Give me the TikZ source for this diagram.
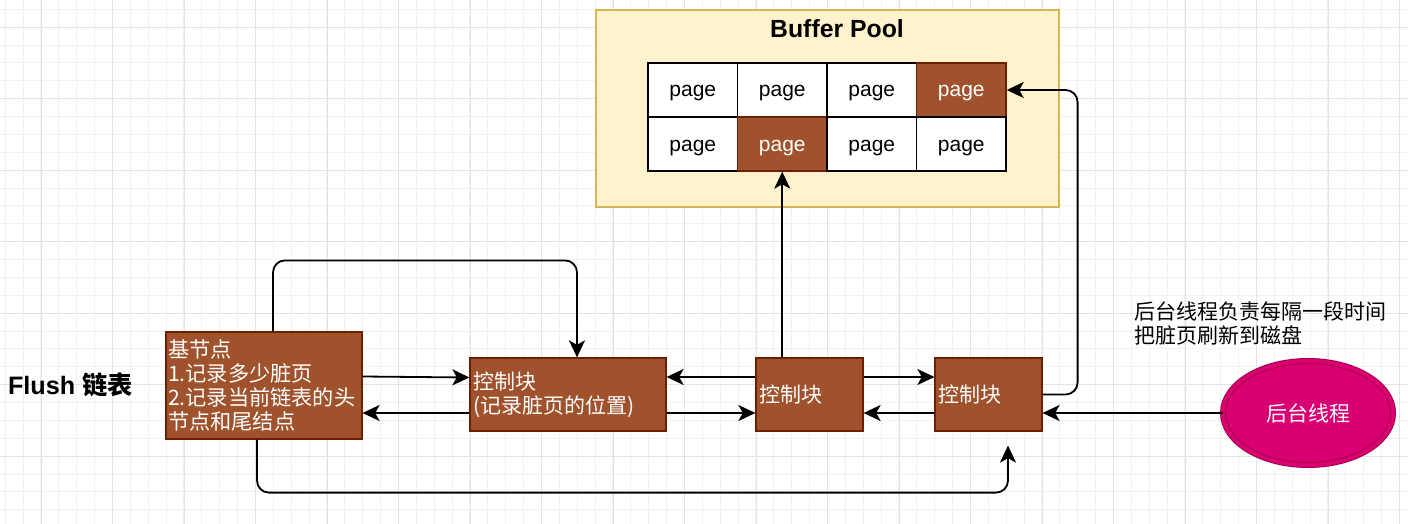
\documentclass[tikz,border=0pt]{standalone}
\usepackage{fontspec}
\setmainfont{Liberation Sans}
\newfontfamily\cjk{Noto Sans CJK SC}
\usetikzlibrary{arrows.meta,positioning,shapes.geometric}
\definecolor{dirtyfill}{HTML}{A0522D}
\definecolor{dirtyline}{HTML}{6D1F00}
\definecolor{poolfill}{HTML}{FFF2CC}
\definecolor{poolline}{HTML}{D6B656}
\definecolor{threadfill}{HTML}{D80073}
\definecolor{threadline}{HTML}{A50040}
\tikzset{
  minorgrid/.style={
    draw=black!5,
    line width=0.5pt
  },
  majorgrid/.style={
    draw=black!11,
    line width=0.5pt
  },
  pool/.style={
    draw=poolline,
    fill=poolfill,
    rectangle,
    line width=0.6pt,
    minimum width=231.5pt,
    minimum height=98.5pt,
    inner sep=0pt
  },
  page/.style={
    draw=black,
    fill=white,
    rectangle,
    line width=0.7pt,
    minimum width=44.75pt,
    minimum height=27pt,
    inner sep=0pt,
    text height=7pt,
    text depth=0pt,
    font=\fontsize{10.5pt}{12pt}\selectfont
  },
  dirtypage/.style={
    page,
    draw=dirtyline,
    fill=dirtyfill,
    text=white
  },
  block/.style={
    draw=dirtyline,
    fill=dirtyfill,
    text=white,
    rectangle,
    line width=0.6pt,
    inner xsep=1.5pt,
    inner ysep=0pt,
    align=left,
    minimum height=36.5pt,
    font=\cjk\fontsize{10.5pt}{12.2pt}\selectfont
  },
  thread/.style={
    ellipse,
    draw=threadline,
    double=threadfill,
    double distance=2pt,
    line width=0.5pt,
    fill=threadfill,
    text=white,
    minimum width=85pt,
    minimum height=52pt,
    inner sep=0pt,
    font=\cjk\fontsize{10.5pt}{12pt}\selectfont
  },
  line/.style={
    -{Stealth[length=8.5pt,width=8pt,inset=2.2pt]},
    line width=0.9pt
  }
}

\begin{document}
\begin{tikzpicture}[x=0.5pt,y=-0.5pt]

\useasboundingbox (0,0) rectangle (1408,524);
\fill[white] (0,0) rectangle (1408,524);

% background grid
\foreach \k in {0,...,78}
  \draw[minorgrid] ({5.2+17.875*\k},0) -- ({5.2+17.875*\k},524);
\foreach \k in {0,...,29}
  \draw[minorgrid] (0,{9.3+17.875*\k}) -- (1408,{9.3+17.875*\k});
\foreach \k in {0,...,19}
  \draw[majorgrid] ({41+71.5*\k},0) -- ({41+71.5*\k},524);
\foreach \k in {0,...,7}
  \draw[majorgrid] (0,{27.3+71.5*\k}) -- (1408,{27.3+71.5*\k});

% buffer pool
\node[pool] (pool) at (827.5,108.5) {};
\node[font=\bfseries\fontsize{12.4pt}{14pt}\selectfont] (title) at (837,29) {Buffer Pool};
\foreach \r/\c/\s in {1/1/page,1/2/page,1/3/page,1/4/dirtypage,
                      2/1/page,2/2/dirtypage,2/3/page,2/4/page}
  \node[\s] (p\r\c) at ({648+89.5*(\c-0.5)},{63+54*(\r-0.5)}) {page};

% flush list
\node[anchor=west,font=\bfseries\fontsize{12.6pt}{14pt}\selectfont] (flush) at (1,385)
  {Flush {\cjk 链表}};
\node[block, minimum width=98pt, minimum height=53.5pt, inner xsep=1pt, text width=96pt,
      font=\cjk\fontsize{10.6pt}{12.1pt}\selectfont] (base) at (264,385.5)
  {基节点\\1.记录多少脏页\\2.记录当前链表的头\\节点和尾结点};
\node[block, minimum width=98pt, text width=95pt] (ctrlA) at (568,394.5)
  {控制块\\(记录脏页的位置)};
\node[block, minimum width=53.5pt, text width=50.5pt] (ctrlB) at (809.5,394.5) {控制块};
\node[block, minimum width=53.5pt, text width=50.5pt] (ctrlC) at (988.5,394.5) {控制块};

% background thread
\node[thread] (worker) at (1308,413) {后台线程};
\node[anchor=west, align=left, font=\cjk\fontsize{10.5pt}{12pt}\selectfont] (note) at (1127,324)
  {后台线程负责每隔一段时间\\把脏页刷新到磁盘};

% links
\draw[line] ([yshift=4.5pt]base.east) -- ([yshift=8.5pt]ctrlA.west);
\draw[line] ([yshift=-9.25pt]ctrlA.west) -- ([yshift=-9.25pt]ctrlA.west -| base.east);
\draw[line] ([yshift=8.75pt]ctrlB.west) -- ([yshift=8.75pt]ctrlB.west -| ctrlA.east);
\draw[line] ([yshift=-9.25pt]ctrlA.east) -- ([yshift=-9.25pt]ctrlA.east -| ctrlB.west);
\draw[line] ([yshift=8.75pt]ctrlB.east) -- ([yshift=8.75pt]ctrlB.east -| ctrlC.west);
\draw[line] ([yshift=-9.25pt]ctrlC.west) -- ([yshift=-9.25pt]ctrlC.west -| ctrlB.east);
\draw[line] (worker.west) -- (worker.west -| ctrlC.east);
\draw[line] (p22.south |- ctrlB.north) -- (p22.south);
\draw[line, rounded corners=6pt] (ctrlC.east) -- ++(35,0) |- (p14.east);
\draw[line, rounded corners=6pt] ([xshift=4.5pt]base.north) -- ++(0,-71)
  -| ([xshift=4.5pt]ctrlA.north);
\draw[line, rounded corners=6pt] ([xshift=-3.5pt]base.south) -- ++(0,53)
  -| ([xshift=9.75pt,yshift=-7pt]ctrlC.south);

\end{tikzpicture}
\end{document}
